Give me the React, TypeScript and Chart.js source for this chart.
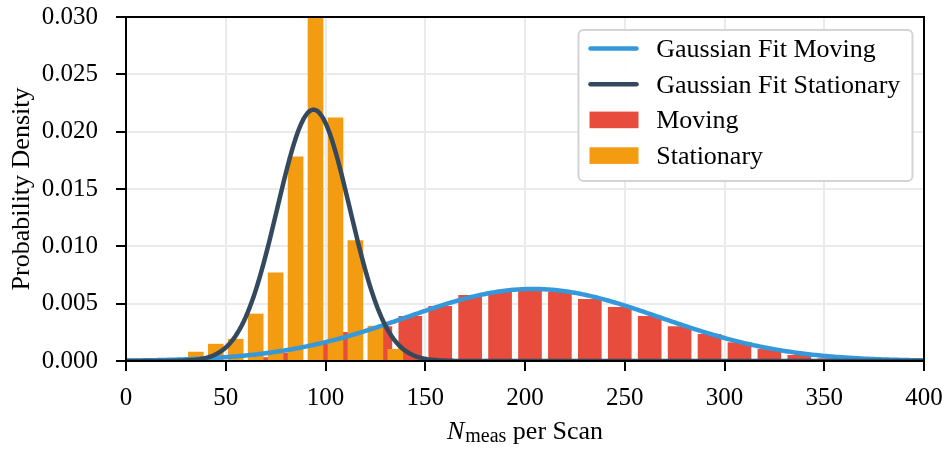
import React, { useEffect, useRef } from 'react';
import { Chart, registerables } from 'chart.js';

Chart.register(...registerables);

// ---- Data ----
const stationaryBins = [35, 45, 55, 65, 75, 85, 95, 105, 115, 125, 135];
const stationaryDensity = [0.00078, 0.00147, 0.0019, 0.0041, 0.0077, 0.0178, 0.0302, 0.0212, 0.0105, 0.00304, 0.00102];

const movingBins = [67.5, 82.5, 97.5, 112.5, 127.5, 142.5, 157.5, 172.5, 187.5, 202.5, 217.5, 232.5, 247.5, 262.5, 277.5, 292.5, 307.5, 322.5, 337.5, 352.5, 367.5];
const movingDensity = [0.0003, 0.0007, 0.00145, 0.0025, 0.003, 0.0039, 0.00477, 0.00573, 0.006, 0.0061, 0.006, 0.00538, 0.00468, 0.0039, 0.003, 0.00233, 0.0016, 0.00102, 0.0005, 0.0002, 0.0001];

// Gaussian fit parameters (mean, standard deviation)
const fitMovingMean = 204;
const fitMovingStd = 63.5;
const fitStationaryMean = 94;
const fitStationaryStd = 18.2;

const xTickValues = [0, 50, 100, 150, 200, 250, 300, 350, 400];
const yTickValues = [0, 0.005, 0.01, 0.015, 0.02, 0.025, 0.03];

const seriesLabels = ['Gaussian Fit Moving', 'Gaussian Fit Stationary', 'Moving', 'Stationary'];
const seriesColors = ['#3498db', '#34495e', '#e74c3c', '#f39c12'];

const FONT = "'Liberation Serif', 'Times New Roman', serif";

function gaussianPdf(x: number, mean: number, std: number) {
  const z = (x - mean) / std;
  return Math.exp(-0.5 * z * z) / (std * Math.sqrt(2 * Math.PI));
}

const curveX: number[] = [];
for (let v = xTickValues[0]; v <= xTickValues[xTickValues.length - 1]; v += 1) curveX.push(v);

export default function App() {
  const ref = useRef<HTMLCanvasElement>(null);

  useEffect(() => {
    document.body.style.margin = '0';
    const canvas = ref.current;
    if (!canvas) return;

    const framePlugin = {
      id: 'frameBox',
      afterDatasetsDraw(chart: any) {
        const { ctx, chartArea: a } = chart;
        ctx.save();
        ctx.strokeStyle = '#000';
        ctx.lineWidth = 2;
        ctx.strokeRect(a.left, a.top, a.right - a.left, a.bottom - a.top);
        ctx.restore();
      },
    };

    const legendPlugin = {
      id: 'insideLegend',
      afterDraw(chart: any) {
        const { ctx, chartArea: a } = chart;
        const w = 334;
        const h = 151;
        const left = a.right - 11.5 - w;
        const top = a.top + 13;
        ctx.save();
        ctx.beginPath();
        const r = 5;
        ctx.moveTo(left + r, top);
        ctx.lineTo(left + w - r, top);
        ctx.arcTo(left + w, top, left + w, top + r, r);
        ctx.lineTo(left + w, top + h - r);
        ctx.arcTo(left + w, top + h, left + w - r, top + h, r);
        ctx.lineTo(left + r, top + h);
        ctx.arcTo(left, top + h, left, top + h - r, r);
        ctx.lineTo(left, top + r);
        ctx.arcTo(left, top, left + r, top, r);
        ctx.closePath();
        ctx.fillStyle = 'rgba(255,255,255,0.95)';
        ctx.fill();
        ctx.strokeStyle = '#d4d4d4';
        ctx.lineWidth = 2;
        ctx.stroke();

        chart.data.datasets.forEach((ds: any, i: number) => {
          const cy = top + 18.5 + i * 35.7;
          const sx = left + 10;
          if (ds.type === 'line') {
            ctx.beginPath();
            ctx.lineCap = 'round';
            ctx.strokeStyle = ds.borderColor;
            ctx.lineWidth = 4.5;
            ctx.moveTo(sx + 2, cy);
            ctx.lineTo(sx + 48, cy);
            ctx.stroke();
          } else {
            ctx.fillStyle = ds.backgroundColor;
            ctx.fillRect(sx + 1, cy - 8.3, 49, 16.6);
          }
          ctx.fillStyle = '#000';
          ctx.font = `26px ${FONT}`;
          ctx.textBaseline = 'alphabetic';
          ctx.textAlign = 'left';
          ctx.fillText(ds.label, left + 77.7, cy + 8.5);
        });
        ctx.restore();
      },
    };

    const xTitlePlugin = {
      id: 'xTitle',
      afterDraw(chart: any) {
        const { ctx, chartArea: a } = chart;
        const baseline = a.bottom + 77.5;
        const fItalic = `italic 26px ${FONT}`;
        const fSub = `20px ${FONT}`;
        const fMain = `26px ${FONT}`;
        ctx.save();
        ctx.fillStyle = '#000';
        ctx.textAlign = 'left';
        ctx.textBaseline = 'alphabetic';
        ctx.font = fItalic;
        const wN = ctx.measureText('N').width;
        ctx.font = fSub;
        const wSub = ctx.measureText('meas').width;
        ctx.font = fMain;
        const rest = ' per Scan';
        const wRest = ctx.measureText(rest).width;
        const total = wN + 1 + wSub + wRest;
        let x = (a.left + a.right) / 2 - total / 2;
        ctx.font = fItalic;
        ctx.fillText('N', x, baseline);
        x += wN + 1;
        ctx.font = fSub;
        ctx.fillText('meas', x, baseline + 3.5);
        x += wSub;
        ctx.font = fMain;
        ctx.fillText(rest, x, baseline);
        ctx.restore();
      },
    };

    const chart = new Chart(canvas, {
      type: 'bar',
      data: {
        datasets: [
          {
            type: 'line',
            label: seriesLabels[0],
            data: curveX.map((x) => ({ x, y: gaussianPdf(x, fitMovingMean, fitMovingStd) })),
            borderColor: seriesColors[0],
            backgroundColor: seriesColors[0],
            borderWidth: 4.5,
            pointRadius: 0,
            tension: 0,
            fill: false,
            order: 1,
          },
          {
            type: 'line',
            label: seriesLabels[1],
            data: curveX.map((x) => ({ x, y: gaussianPdf(x, fitStationaryMean, fitStationaryStd) })),
            borderColor: seriesColors[1],
            backgroundColor: seriesColors[1],
            borderWidth: 4.5,
            pointRadius: 0,
            tension: 0,
            fill: false,
            order: 0,
          },
          {
            type: 'bar',
            label: seriesLabels[2],
            data: movingBins.map((x, i) => ({ x, y: movingDensity[i] })),
            backgroundColor: seriesColors[2],
            borderWidth: 0,
            barThickness: 23,
            grouped: false,
            clip: 0,
            order: 3,
          } as any,
          {
            type: 'bar',
            label: seriesLabels[3],
            data: stationaryBins.map((x, i) => ({ x, y: stationaryDensity[i] })),
            backgroundColor: seriesColors[3],
            borderWidth: 0,
            barThickness: 15,
            grouped: false,
            clip: 0,
            order: 2,
          } as any,
        ],
      },
      options: {
        responsive: false,
        animation: false,
        devicePixelRatio: 1,
        layout: { padding: { top: 17, right: 23, left: 0, bottom: 0 } },
        plugins: {
          legend: { display: false },
          tooltip: { enabled: false },
        },
        scales: {
          x: {
            type: 'linear',
            min: xTickValues[0],
            max: xTickValues[xTickValues.length - 1],
            offset: false,
            afterFit: (s: any) => {
              s.height = 90;
              s.paddingLeft = 0;
              s.paddingRight = 0;
            },
            afterBuildTicks: (s: any) => { s.ticks = xTickValues.map((v) => ({ value: v })); },
            ticks: {
              color: '#000',
              font: { family: FONT, size: 25 },
              padding: 12,
              maxRotation: 0,
              callback: (v: any) => String(v),
            },
            grid: {
              color: '#ebebeb',
              lineWidth: 2,
              offset: false,
              drawTicks: true,
              tickLength: 10,
              tickColor: '#000',
              tickWidth: 2,
            },
            border: { color: '#000', width: 2 },
          },
          y: {
            type: 'linear',
            min: yTickValues[0],
            max: yTickValues[yTickValues.length - 1],
            afterFit: (s: any) => {
              s.width = 126;
              s.paddingTop = 0;
              s.paddingBottom = 0;
            },
            afterBuildTicks: (s: any) => { s.ticks = yTickValues.map((v) => ({ value: v })); },
            ticks: {
              color: '#000',
              font: { family: FONT, size: 25 },
              padding: 18,
              callback: (v: any) => Number(v).toFixed(3),
            },
            grid: {
              color: '#ebebeb',
              lineWidth: 2,
              drawTicks: true,
              tickLength: 10,
              tickColor: '#000',
              tickWidth: 2,
            },
            border: { color: '#000', width: 2 },
            title: {
              display: true,
              text: 'Probability Density',
              color: '#000',
              font: { family: FONT, size: 26 },
              padding: { top: 7, bottom: 0 },
            },
          },
        },
      } as any,
      plugins: [framePlugin, legendPlugin, xTitlePlugin],
    });

    return () => chart.destroy();
  }, []);

  return (
    <div style={{ width: 947, height: 451 }}>
      <canvas ref={ref} width={947} height={451} style={{ display: 'block' }} />
    </div>
  );
}
